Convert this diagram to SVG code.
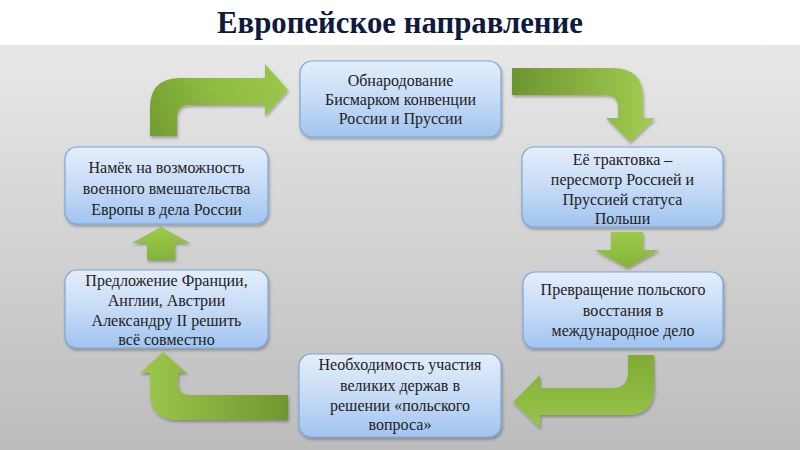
<svg xmlns="http://www.w3.org/2000/svg" width="800" height="450" viewBox="0 0 800 450">
<defs>
<linearGradient id="bg" x1="0" y1="0" x2="0" y2="1">
<stop offset="0" stop-color="#e8e8e8"/>
<stop offset="1" stop-color="#bcbcbc"/>
</linearGradient>
<linearGradient id="box" x1="0" y1="0" x2="0" y2="1">
<stop offset="0" stop-color="#e4eefb"/>
<stop offset="0.5" stop-color="#c6dbf6"/>
<stop offset="1" stop-color="#a1c4f0"/>
</linearGradient>
<linearGradient id="g1" gradientUnits="userSpaceOnUse" x1="160" y1="136" x2="288" y2="78">
<stop offset="0" stop-color="#75a032"/>
<stop offset="0.5" stop-color="#8fbd42"/>
<stop offset="1" stop-color="#9bc84a"/>
</linearGradient>
<linearGradient id="g2" gradientUnits="userSpaceOnUse" x1="512" y1="0" x2="650" y2="0">
<stop offset="0" stop-color="#6c9530"/>
<stop offset="1" stop-color="#a2cb50"/>
</linearGradient>
<linearGradient id="g3" gradientUnits="userSpaceOnUse" x1="0" y1="355" x2="0" y2="428">
<stop offset="0" stop-color="#7fab37"/>
<stop offset="1" stop-color="#98c548"/>
</linearGradient>
<linearGradient id="g4" gradientUnits="userSpaceOnUse" x1="288" y1="0" x2="140" y2="0">
<stop offset="0" stop-color="#6f9731"/>
<stop offset="1" stop-color="#9dc84b"/>
</linearGradient>
<linearGradient id="gv" x1="0" y1="0" x2="0" y2="1">
<stop offset="0" stop-color="#9ccb48"/>
<stop offset="1" stop-color="#84b33b"/>
</linearGradient>
<filter id="sh" x="-10%" y="-10%" width="125%" height="130%">
<feDropShadow dx="1" dy="2" stdDeviation="1.5" flood-color="#000" flood-opacity="0.3"/>
</filter>
</defs>
<style>
.box{fill:url(#box);stroke:#7ea6da;stroke-width:1.2;filter:url(#sh)}
.t{font-family:"Liberation Serif","Times New Roman",serif;font-size:16px;fill:#222222;text-anchor:middle}
.title{font-family:"Liberation Serif","Times New Roman",serif;font-size:32px;font-weight:bold;fill:#0f1b3d;text-anchor:middle}
.arr{filter:url(#sh)}
</style>
<rect x="0" y="0" width="800" height="450" fill="#ffffff"/>
<rect x="0" y="45" width="800" height="405" fill="url(#bg)"/>
<text class="title" x="400" y="33" textLength="366" lengthAdjust="spacingAndGlyphs">Европейское направление</text>

<g id="connectors">
<path class="arr" fill="url(#g1)" d="M150,136 L150,108 Q150,78 180,78 L265,78 L265,64 L288,90 L265,116 L265,105 L190,105 Q177,105 177,118 L177,136 Z"/>
<path class="arr" fill="url(#g2)" d="M512,68 L613,68 Q643,68 643,98 L643,118 L655,118 L630,142 L606,118 L618,118 L618,108 Q618,95 605,95 L512,95 Z"/>
<path class="arr" fill="url(#gv)" d="M611,232 L643,232 L643,250 L659,250 L627,268 L595,250 L611,250 Z"/>
<path class="arr" fill="url(#g3)" d="M628,355 L654,355 L654,388 Q654,415 627,415 L540,415 L540,428 L513,402 L540,375 L540,388 L612,388 Q628,388 628,372 Z"/>
<path class="arr" fill="url(#g4)" d="M288,395 L190,395 Q178,395 178,383 L178,373 L187,373 L163,352 L140,373 L150,373 L150,392 Q150,420 178,420 L288,420 Z"/>
<path class="arr" fill="url(#gv)" d="M147,260 L147,243 L132,243 L161,227 L190,243 L175,243 L175,260 Z"/>
</g>

<g id="n1">
<rect class="box" x="300" y="61" width="201" height="76" rx="12"/>
<text class="t" x="400.5" y="86">Обнародование</text>
<text class="t" x="400.5" y="105">Бисмарком конвенции</text>
<text class="t" x="400.5" y="124">России и Пруссии</text>
</g>
<g id="n2">
<rect class="box" x="522" y="147" width="201" height="80" rx="12"/>
<text class="t" x="622.5" y="165">Её трактовка –</text>
<text class="t" x="622.5" y="185">пересмотр Россией и</text>
<text class="t" x="622.5" y="205">Пруссией статуса</text>
<text class="t" x="622.5" y="224">Польши</text>
</g>
<g id="n3">
<rect class="box" x="523" y="272" width="200" height="76" rx="12"/>
<text class="t" x="623" y="295">Превращение польского</text>
<text class="t" x="623" y="316">восстания в</text>
<text class="t" x="623" y="336">международное дело</text>
</g>
<g id="n4">
<rect class="box" x="299" y="354" width="202" height="83" rx="12"/>
<text class="t" x="400" y="370">Необходимость участия</text>
<text class="t" x="400" y="391">великих держав в</text>
<text class="t" x="400" y="411">решении «польского</text>
<text class="t" x="400" y="430">вопроса»</text>
</g>
<g id="n5">
<rect class="box" x="65" y="270" width="203" height="78" rx="12"/>
<text class="t" x="166.5" y="286">Предложение Франции,</text>
<text class="t" x="166.5" y="306">Англии, Австрии</text>
<text class="t" x="166.5" y="326">Александру II решить</text>
<text class="t" x="166.5" y="345">всё совместно</text>
</g>
<g id="n6">
<rect class="box" x="65" y="147" width="203" height="77" rx="12"/>
<text class="t" x="166.5" y="173">Намёк на возможность</text>
<text class="t" x="166.5" y="194">военного вмешательства</text>
<text class="t" x="166.5" y="215">Европы в дела России</text>
</g>
</svg>
